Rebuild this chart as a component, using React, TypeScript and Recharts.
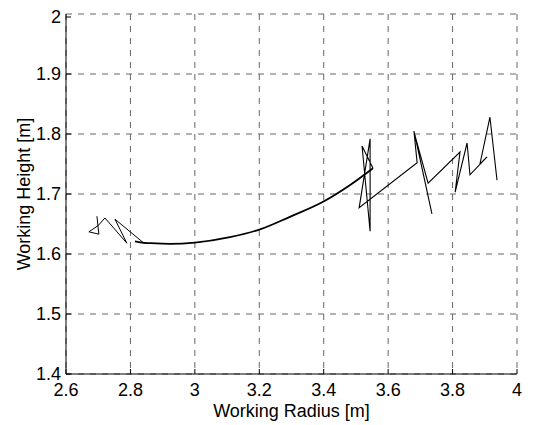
import { CartesianGrid, Line, LineChart, XAxis, YAxis } from "recharts";

const xTicks = [2.6, 2.8, 3, 3.2, 3.4, 3.6, 3.8, 4];
const yTicks = [1.4, 1.5, 1.6, 1.7, 1.8, 1.9, 2];

// jerky start before the smooth sweep
const leadRadius = [2.696, 2.702, 2.671, 2.699, 2.721, 2.789, 2.752, 2.842];
const leadHeight = [1.663, 1.633, 1.637, 1.647, 1.66, 1.618, 1.658, 1.618];

// smooth sweep
const arcRadius = [2.814, 2.842, 2.861, 2.923, 3.0, 3.109, 3.202, 3.295, 3.398, 3.482, 3.553];
const arcHeight = [1.621, 1.6185, 1.618, 1.617, 1.619, 1.628, 1.641, 1.662, 1.687, 1.715, 1.743];

// oscillating end of the run
const tailRadius = [
  3.553, 3.519, 3.544, 3.544, 3.51, 3.69, 3.68, 3.736, 3.683, 3.724, 3.823, 3.808, 3.845, 3.854,
  3.907, 3.885, 3.916, 3.938,
];
const tailHeight = [
  1.743, 1.78, 1.638, 1.792, 1.677, 1.752, 1.805, 1.667, 1.798, 1.718, 1.77, 1.703, 1.785, 1.732,
  1.762, 1.75, 1.828, 1.723,
];

const toPoints = (r: number[], h: number[]) => r.map((x, i) => ({ x, y: h[i] }));

const FONT = "'Liberation Sans', Arial, sans-serif";
const FS = 18;
const TICK = 5;

function BottomTick({ x, y, payload }: any) {
  return (
    <g>
      <line x1={x} x2={x} y1={y} y2={y - TICK} stroke="#000" />
      <text x={x} y={y + 22} textAnchor="middle" fontSize={FS} fontFamily={FONT} fill="#000">
        {String(payload.value)}
      </text>
    </g>
  );
}

function TopTick({ x, y }: any) {
  return <line x1={x} x2={x} y1={y} y2={y + TICK} stroke="#000" />;
}

function LeftTick({ x, y, payload }: any) {
  return (
    <g>
      <line x1={x} x2={x + TICK} y1={y} y2={y} stroke="#000" />
      <text x={x - 5} y={y + 6} textAnchor="end" fontSize={FS} fontFamily={FONT} fill="#000">
        {String(payload.value)}
      </text>
    </g>
  );
}

function RightTick({ x, y }: any) {
  return <line x1={x} x2={x - TICK} y1={y} y2={y} stroke="#000" />;
}

function YTitle({ viewBox }: any) {
  const cx = viewBox.x + 22;
  const cy = viewBox.y + viewBox.height / 2;
  return (
    <text
      x={cx}
      y={cy}
      transform={`rotate(-90 ${cx} ${cy})`}
      textAnchor="middle"
      fontSize={FS}
      fontFamily={FONT}
      fill="#000"
    >
      Working Height [m]
    </text>
  );
}

export default function App() {
  return (
    <div style={{ width: 525, height: 417 }}>
      <LineChart width={525} height={417} margin={{ top: 6, right: 16, bottom: 0, left: 0 }}>
        <CartesianGrid stroke="#666" strokeDasharray="6 6" />
        <XAxis
          type="number"
          dataKey="x"
          domain={[2.6, 4]}
          ticks={xTicks}
          allowDataOverflow
          height={51}
          tickSize={0}
          tickMargin={0}
          tickLine={false}
          axisLine={{ stroke: "#000" }}
          tick={BottomTick}
          label={{
            value: "Working Radius [m]",
            position: "insideBottom",
            offset: 8,
            fontSize: FS,
            fontFamily: FONT,
            fill: "#000",
          }}
        />
        <XAxis
          xAxisId="top"
          orientation="top"
          type="number"
          dataKey="x"
          domain={[2.6, 4]}
          ticks={xTicks}
          allowDataOverflow
          height={0}
          tickSize={0}
          tickMargin={0}
          tickLine={false}
          axisLine={{ stroke: "#000" }}
          tick={TopTick}
        />
        <YAxis
          type="number"
          domain={[1.4, 2]}
          ticks={yTicks}
          allowDataOverflow
          width={58}
          tickSize={0}
          tickMargin={0}
          tickLine={false}
          axisLine={{ stroke: "#000" }}
          tick={LeftTick}
          label={{ content: YTitle }}
        />
        <YAxis
          yAxisId="right"
          orientation="right"
          type="number"
          domain={[1.4, 2]}
          ticks={yTicks}
          allowDataOverflow
          width={0}
          tickSize={0}
          tickMargin={0}
          tickLine={false}
          axisLine={{ stroke: "#000" }}
          tick={RightTick}
        />
        <Line
          data={toPoints(leadRadius, leadHeight)}
          dataKey="y"
          type="linear"
          stroke="#000"
          strokeWidth={1}
          dot={false}
          isAnimationActive={false}
        />
        <Line
          data={toPoints(arcRadius, arcHeight)}
          dataKey="y"
          type="monotone"
          stroke="#000"
          strokeWidth={1.8}
          dot={false}
          isAnimationActive={false}
        />
        <Line
          data={toPoints(tailRadius, tailHeight)}
          dataKey="y"
          type="linear"
          stroke="#000"
          strokeWidth={1.1}
          dot={false}
          isAnimationActive={false}
        />
      </LineChart>
    </div>
  );
}
